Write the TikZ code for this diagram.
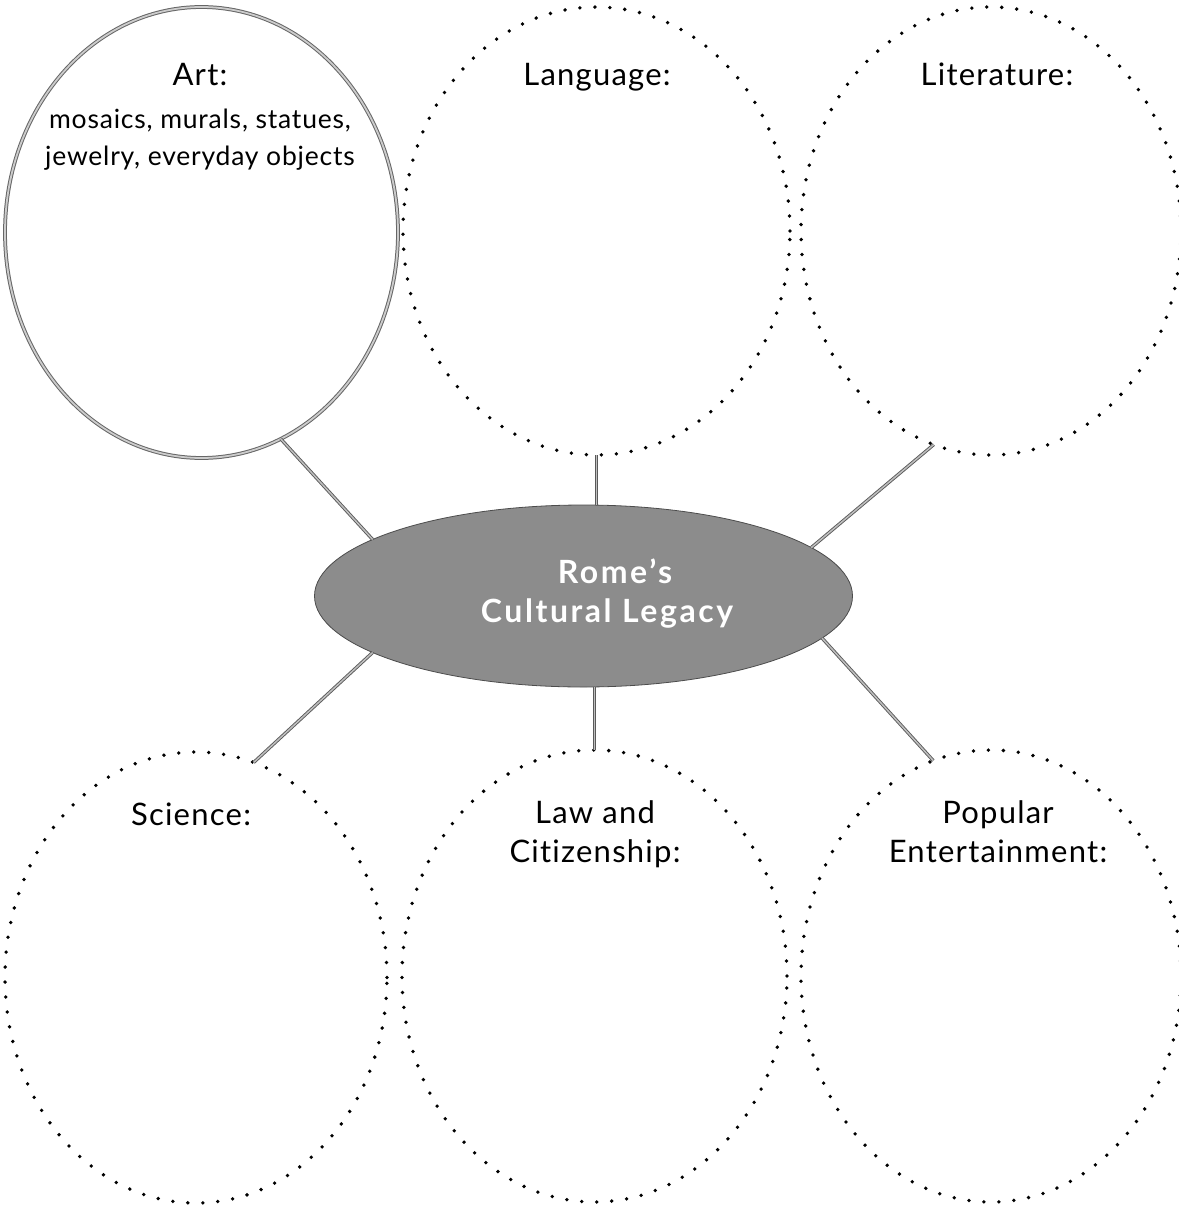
\documentclass[tikz,border=0pt]{standalone}
\usepackage{fontspec}
\setmainfont{Lato}[Ligatures=NoCommon]
\newfontfamily\headfont{Lato}[LetterSpace=4, Ligatures=NoCommon]
\newfontfamily\subfont{Lato}[LetterSpace=3, Ligatures=NoCommon]
\newfontfamily\hubfont{Lato Bold}[LetterSpace=8, Ligatures=NoCommon]
\usetikzlibrary{shapes.geometric}
\begin{document}
\begin{tikzpicture}[x=1pt,y=-1pt,
  bubble/.style={ellipse, inner sep=0pt, outer sep=0pt},
  dotbubble/.style={bubble, draw=black, line width=3.8pt, line cap=round, dash pattern=on 0pt off 15pt},
  artbubble/.style={bubble, draw=black!60, double=black!20, line width=1pt, double distance=1.8pt},
  hub/.style={bubble, draw=black!70, line width=0.8pt, fill=black!45},
  link/.style={draw=black!65, double=black!25, line width=0.9pt, double distance=1.5pt},
  head/.style={font=\headfont\fontsize{31}{39}\selectfont, anchor=base, inner sep=0pt},
  sub/.style={font=\subfont\fontsize{26.5}{37}\selectfont, anchor=base, inner sep=0pt},
  hubtext/.style={font=\hubfont\fontsize{32}{39}\selectfont, text=white, anchor=base, inner sep=0pt}]
\useasboundingbox (0,0) rectangle (1178,1207);
% bubbles
\node[artbubble, minimum width=393pt, minimum height=451pt] (art) at (201.5,232.5) {};
\node[dotbubble, minimum width=387pt, minimum height=448pt] (lang) at (596.5,231) {};
\node[dotbubble, minimum width=380pt, minimum height=448pt] (lit) at (991,231) {};
\node[dotbubble, minimum width=382pt, minimum height=451pt] (sci) at (196,977.5) {};
\node[dotbubble, minimum width=385pt, minimum height=452pt] (law) at (594.5,976) {};
\node[dotbubble, minimum width=380pt, minimum height=452pt] (pop) at (991,976) {};
\node[hub, minimum width=538pt, minimum height=182pt] (hub) at (583.5,596) {};
% connectors
\draw[link] (art.-69.2) -- (hub.165.8);
\draw[link] (lang.south) -- (lang.south |- hub.north);
\draw[link] (lit.-105.7) -- (hub.12.6);
\draw[link] (sci.75.1) -- (hub.195.6);
\draw[link] (hub.south -| law.north) -- (law.north);
\draw[link] (pop.105.2) -- (hub.-10.9);
% texts
\node[hubtext] (hubA) at (615,583) {Rome’s};
\node[hubtext] (hubB) at (607,622) {Cultural Legacy};
\node[head] (artA) at (200,85) {Art:};
\node[sub] (artB) at (200,128) {mosaics, murals, statues,};
\node[sub] (artC) at (200,165) {jewelry, everyday objects};
\node[head] (langA) at (597,85) {Language:};
\node[head] (litA) at (997,85) {Literature:};
\node[head] (sciA) at (191,825) {Science:};
\node[head] (lawA) at (595,823) {Law and};
\node[head] (lawB) at (595,862) {Citizenship:};
\node[head] (popA) at (998,823) {Popular};
\node[head] (popB) at (998,862) {Entertainment:};
\end{tikzpicture}
\end{document}
